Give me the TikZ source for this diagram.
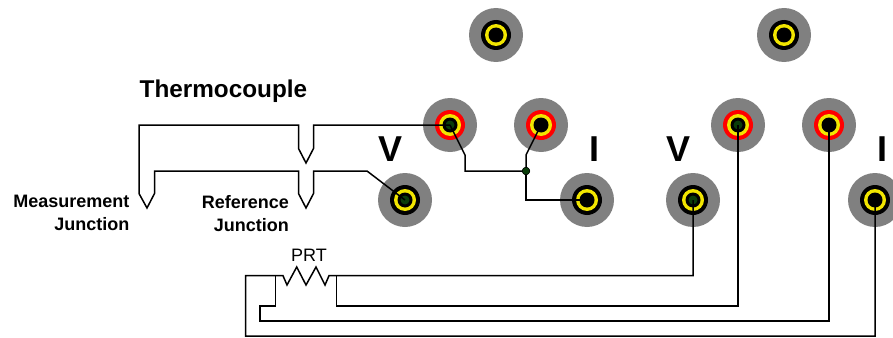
\documentclass[tikz,border=0pt]{standalone}
\usepackage{fontspec}
\setmainfont{Liberation Sans}
\tikzset{
  x=1pt,y=-1pt,
  disc/.style={circle,inner sep=0pt,minimum size=#1,fill=black},
  wire/.style={draw=black,line width=1.5pt,line join=miter},
  big/.style={font=\bfseries\fontsize{36}{36}\selectfont,inner sep=0pt,anchor=base},
  title/.style={font=\bfseries\fontsize{24.3}{28}\selectfont,inner sep=0pt,anchor=base west},
  jlabel/.style={font=\bfseries\fontsize{18}{23}\selectfont,inner sep=0pt,align=right,anchor=north east},
  plain/.style={font=\fontsize{18}{20}\selectfont,inner sep=0pt,anchor=base},
}
\newcommand{\terminal}[5]{%
  \node[disc=54pt,fill=termgray] (#1) at (#2,#3) {};
  \node[disc=30pt,fill=#4] (#1r) at (#1) {};
  \node[disc=22pt,fill=termyellow] (#1y) at (#1) {};
  \node[disc=15pt,fill=black] (#1b) at (#1) {};
  \node[disc=#5,fill=termgreen] (#1g) at (#1) {};
}
\definecolor{termgray}{HTML}{808080}
\definecolor{termyellow}{HTML}{F2E600}
\definecolor{termred}{HTML}{FF0000}
\definecolor{termgreen}{HTML}{0A3D0A}
\begin{document}
\begin{tikzpicture}
\useasboundingbox (0,0) rectangle (893,337);
% terminals
\terminal{ta}{496}{35}{black}{0pt}
\terminal{tb}{784}{35}{black}{0pt}
\terminal{ra}{450}{125}{termred}{9pt}
\terminal{rb}{541}{125}{termred}{0pt}
\terminal{rc}{738}{125}{termred}{9pt}
\terminal{rd}{829}{125}{termred}{0pt}
\terminal{la}{405}{200}{black}{9pt}
\terminal{lb}{587}{200}{black}{0pt}
\terminal{lc}{693}{200}{black}{9pt}
\terminal{ld}{875}{200}{black}{0pt}
% labels
\node[title] (ttl) at (139.5,97) {Thermocouple};
\node[big] (v1) at (390,161) {V};
\node[big] (i1) at (594,161) {I};
\node[big] (v2) at (678,161) {V};
\node[big] (i2) at (882,161) {I};
\node[jlabel] (mj) at (129.5,195) {Measurement\\Junction};
\node[jlabel] (rj) at (289,195) {Reference\\Junction};
\node[plain] (prt) at (309,261) {PRT};
% thermocouple
\coordinate (c1) at (139,125);
\coordinate (c2) at (367,171);
\draw[wire] (ra.center) -- (313.5,125) -- (313.5,148.5) -- (306,163) -- (298.5,148.5) -- (298.5,125)
  -- (c1) -- (139,193.5) -- (147,208) -- (154.5,193.5) -- (154.5,171) -- (298.5,171)
  -- (298.5,193.5) -- (306,208) -- (313.5,193.5) -- (313.5,171) -- (c2) -- (la.center);
% current link
\node[circle,draw=black,line width=0.5pt,fill=termgreen,inner sep=0pt,minimum size=7.5pt] (j) at (526,171) {};
\draw[wire] (ra.center) -- (465,155) -- (465,171) -- (j.center);
\draw[wire] (rb.center) -- (526,155) -- (j.center);
\draw[wire] (j.center) -- (526,200) -- (lb.center);
\node[circle,draw=black,line width=0.5pt,fill=termgreen,inner sep=0pt,minimum size=7.5pt] (j2) at (j) {};
% PRT
\draw[wire] (lc.center) -- (693,275.7) -- (329,275.7) -- (325,285) -- (316,267) -- (306,285) -- (296.7,267) -- (287,285) -- (283,275.7) -- (245.7,275.7) -- (245.7,336) -- (875,336) -- (ld.center);
\draw[wire] (336.7,275.7) -- (336.7,306) -- (738,306) -- (rc.center);
\draw[wire] (275.7,275.7) -- (275.7,306) -- (260,306) -- (260,321) -- (829,321) -- (rd.center);
\end{tikzpicture}
\end{document}
